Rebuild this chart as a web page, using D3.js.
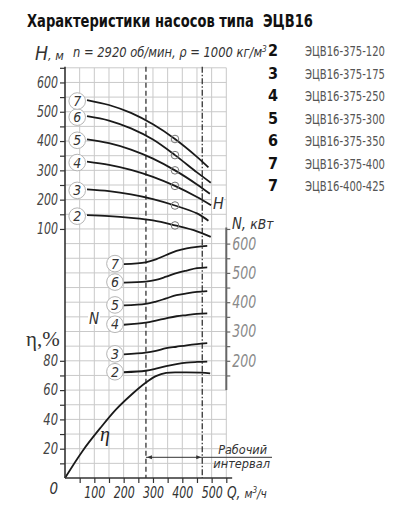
<!DOCTYPE html>
<html>
<head>
<meta charset="utf-8">
<script src="https://cdn.jsdelivr.net/npm/d3@7"></script>
<style>
  html, body { margin: 0; padding: 0; background: #fff; }
  svg { display: block; }
</style>
</head>
<body>
<div id="chart"></div>
<script>
// --- data ---
const pumpNums = ['2', '3', '4', '5', '6', '7', '7'];
const pumpNames = ['ЭЦВ16-375-120', 'ЭЦВ16-375-175', 'ЭЦВ16-375-250', 'ЭЦВ16-375-300',
  'ЭЦВ16-375-350', 'ЭЦВ16-375-400', 'ЭЦВ16-400-425'];

const curveLabels = ['2', '3', '4', '5', '6', '7'];

// head H (m) vs flow Q (m3/h)
const headQ = [75, 150, 225, 300, 375, 450];
const headEndQ = [497, 489, 498, 494, 497, 489];
const headVals = [
  [147, 144, 138, 129, 112, 92, 73],
  [235, 229, 218, 202, 180, 153, 128],
  [330, 319, 302, 278, 247, 209, 181],
  [406, 393, 371, 340, 300, 252, 220],
  [485, 470, 443, 405, 352, 293, 258],
  [540, 523, 496, 457, 407, 346, 310]
];
const dutyQ = 375; // small circles on the H curves

// power N (kW) vs Q
const powerQ = [200, 275, 310, 345, 380, 415, 450, 485];
const powerVals = [
  [161, 166, 173, 182, 189, 194, 196, 197],
  [222, 228, 234, 243, 248, 253, 257, 260],
  [323, 330, 337, 345, 352, 356, 360, 362],
  [389, 394, 402, 413, 424, 430, 435, 438],
  [467, 470, 476, 487, 499, 508, 516, 519],
  [530, 536, 546, 561, 575, 584, 589, 592]
];

// efficiency (%) vs Q
const etaQ = [0, 60, 120, 175, 230, 275, 310, 345, 400, 465, 495];
const etaVals = [0, 18.5, 34, 47, 57.5, 65, 69.5, 71.8, 72.1, 71.9, 71.4];

const workQ = [276, 468];

const qTicks = [50, 100, 150, 200, 250, 300, 350, 400, 450, 500, 550];
const hTicks = [100, 150, 200, 250, 300, 350, 400, 450, 500, 550, 600, 650];
const etaTicks = [10, 20, 30, 40, 50, 60, 70, 80];
const nTicks = [150, 200, 250, 300, 350, 400, 450, 500, 550, 600, 650];

// --- drawing ---
const FONT = '"DejaVu Sans Condensed", "DejaVu Sans", sans-serif';
const INK = '#1a1a1a';
const GRID = '#c9c9c9';

const svg = d3.select('#chart').append('svg')
  .attr('width', 399).attr('height', 524)
  .style('font-family', FONT);

const x = d3.scaleLinear().domain([0, 550]).range([65, 226.3]);
const yEta = d3.scaleLinear().domain([0, 80]).range([478, 360.8]);
const yH = d3.scaleLinear().domain([100, 600]).range([228.95, 82.45]);
const yN = d3.scaleLinear().domain([200, 600]).range([360.8, 243.6]);

const gridTop = yEta(280);

// text squeezed horizontally to a given width (the original uses a narrow face)
function fitText(px, py, width, anchor, sy) {
  const g = svg.append('g').attr('transform', `translate(${px},${py})`);
  const t = g.append('text').attr('text-anchor', anchor || 'start');
  return {
    t,
    done() {
      const w = t.node().getBBox().width;
      g.attr('transform', `translate(${px},${py}) scale(${width / w},${sy || 1})`);
      return t;
    }
  };
}

// grid
const grid = svg.append('g').attr('stroke', GRID).attr('stroke-width', 1);
d3.range(10, 290, 10).forEach(v => {
  grid.append('line').attr('x1', x(0)).attr('x2', x(550))
    .attr('y1', yEta(v)).attr('y2', yEta(v));
});
qTicks.forEach(q => {
  grid.append('line').attr('x1', x(q)).attr('x2', x(q))
    .attr('y1', gridTop).attr('y2', yEta(0));
});

// working range lines
workQ.forEach((q, i) => {
  svg.append('line')
    .attr('x1', x(q)).attr('x2', x(q))
    .attr('y1', gridTop - 1).attr('y2', yEta(0))
    .attr('stroke', '#333').attr('stroke-width', 1.3)
    .attr('stroke-dasharray', i === 0 ? '5,3' : '6,2,1.5,2');
});

const line = d3.line().curve(d3.curveCatmullRom.alpha(0.5));

// H curves
headVals.forEach((vals, i) => {
  const qs = headQ.concat([headEndQ[i]]);
  const pts = qs.map((q, j) => [x(q), yH(vals[j])]);
  svg.append('path').attr('d', line(pts))
    .attr('fill', 'none').attr('stroke', INK).attr('stroke-width', 1.8);
  const k = headQ.indexOf(dutyQ);
  svg.append('circle').attr('cx', x(dutyQ)).attr('cy', yH(vals[k])).attr('r', 3.8)
    .attr('fill', 'none').attr('stroke', '#777').attr('stroke-width', 1);
});

// N curves
powerVals.forEach(vals => {
  const pts = powerQ.map((q, j) => [x(q), yN(vals[j])]);
  svg.append('path').attr('d', line(pts))
    .attr('fill', 'none').attr('stroke', INK).attr('stroke-width', 1.8);
});

// eta curve
svg.append('path')
  .attr('d', line(etaQ.map((q, j) => [x(q), yEta(etaVals[j])])))
  .attr('fill', 'none').attr('stroke', INK).attr('stroke-width', 1.8);

// numbered label circles
function badge(cx, cy, txt) {
  svg.append('circle').attr('cx', cx).attr('cy', cy).attr('r', 8.3)
    .attr('fill', '#fff').attr('stroke', '#b5b5b5').attr('stroke-width', 1);
  svg.append('text').attr('x', cx).attr('y', cy).attr('dy', '0.36em')
    .attr('text-anchor', 'middle').style('font-style', 'italic')
    .style('font-size', '14px').style('fill', '#333').text(txt);
}
headVals.forEach((vals, i) => badge(x(headQ[0]) - 9.8, yH(vals[0]) + 1, curveLabels[i]));
powerVals.forEach((vals, i) => badge(x(powerQ[0]) - 8.7, yN(vals[0]) - 0.5, curveLabels[i]));

// curve names on the plot
svg.append('rect').attr('x', 212).attr('y', 196).attr('width', 12).attr('height', 15).attr('fill', '#fff');
svg.append('text').attr('x', 213).attr('y', 209).style('font-style', 'italic')
  .style('font-size', '16px').style('fill', '#333').text('H');
svg.append('rect').attr('x', 88).attr('y', 311).attr('width', 12).attr('height', 14).attr('fill', '#fff');
svg.append('text').attr('x', 89).attr('y', 324).style('font-style', 'italic')
  .style('font-size', '15px').style('fill', '#333').text('N');
svg.append('text').attr('x', 100).attr('y', 441).style('font-style', 'italic')
  .style('font-family', '"Liberation Serif", serif')
  .style('font-size', '20px').style('fill', '#222').text('η');

// axes
function styleAxis(g, size, color, w3) {
  g.select('.domain').remove();
  g.selectAll('.tick line').attr('stroke', '#333').attr('stroke-width', 1.2);
  g.selectAll('.tick text').style('font-style', 'italic').style('font-size', size)
    .style('fill', color).style('font-family', FONT)
    .each(function () {
      const s = d3.select(this).text();
      if (s) d3.select(this).attr('textLength', s.length === 3 ? w3 : w3 * 0.7)
        .attr('lengthAdjust', 'spacingAndGlyphs');
    });
}

const hAxis = svg.append('g').attr('transform', `translate(${x(0)},0)`)
  .call(d3.axisLeft(yH).tickValues(hTicks).tickSize(5).tickPadding(2)
    .tickFormat(d => d % 100 === 0 ? d : ''));
styleAxis(hAxis, '15px', '#444', 21);

const eAxis = svg.append('g').attr('transform', `translate(${x(0)},0)`)
  .call(d3.axisLeft(yEta).tickValues(etaTicks).tickSize(5).tickPadding(2)
    .tickFormat(d => d % 20 === 0 ? d : ''));
styleAxis(eAxis, '15px', '#444', 21);

const qAxis = svg.append('g').attr('transform', `translate(0,${yEta(0)})`)
  .call(d3.axisBottom(x).tickValues(qTicks).tickSize(5).tickPadding(4)
    .tickFormat(d => d % 100 === 0 && d <= 500 ? d : ''));
styleAxis(qAxis, '15px', '#333', 21);

const nAxis = svg.append('g').attr('transform', `translate(${x(550)},0)`)
  .call(d3.axisRight(yN).tickValues(nTicks).tickSize(4).tickPadding(2)
    .tickFormat(d => d % 100 === 0 && d <= 600 ? d : ''));
styleAxis(nAxis, '17px', '#8a8a8a', 24);
nAxis.selectAll('.tick line').attr('stroke', '#666');

// axis lines
svg.append('line').attr('x1', x(0)).attr('x2', x(0)).attr('y1', gridTop - 1).attr('y2', yEta(0))
  .attr('stroke', '#333').attr('stroke-width', 1.6);
svg.append('line').attr('x1', x(0)).attr('x2', x(570)).attr('y1', yEta(0)).attr('y2', yEta(0))
  .attr('stroke', '#333').attr('stroke-width', 1.6);
svg.append('line').attr('x1', x(550)).attr('x2', x(550)).attr('y1', yN(655)).attr('y2', yN(100))
  .attr('stroke', '#666').attr('stroke-width', 2);

// axis titles
svg.append('text').attr('x', x(0) - 7).attr('y', 494).attr('text-anchor', 'end')
  .style('font-style', 'italic').style('font-size', '15px').style('fill', '#333').text('0');

let f = fitText(227, 498, 40);
f.t.style('font-style', 'italic').style('fill', '#333');
f.t.append('tspan').style('font-size', '15px').text('Q, ');
f.t.append('tspan').style('font-size', '13px').text('м');
f.t.append('tspan').style('font-size', '9px').attr('dy', -5).text('3');
f.t.append('tspan').style('font-size', '13px').attr('dy', 5).text('/ч');
f.done();

f = fitText(35, 60, 29);
f.t.style('font-style', 'italic').style('fill', '#333');
f.t.append('tspan').style('font-size', '20px').text('H');
f.t.append('tspan').style('font-size', '13px').text(', м');
f.done();

svg.append('text').attr('x', 26).attr('y', 346)
  .style('font-family', '"Liberation Serif", serif').style('font-size', '21px')
  .style('fill', '#333').text('η,%');

f = fitText(232, 229, 42);
f.t.style('font-style', 'italic').style('fill', '#333');
f.t.append('tspan').style('font-size', '15px').text('N, ');
f.t.append('tspan').style('font-size', '14px').text('кВт');
f.done();

// working interval arrow
const yArr = 457.3;
svg.append('line').attr('x1', x(workQ[0])).attr('x2', 272).attr('y1', yArr).attr('y2', yArr)
  .attr('stroke', '#333').attr('stroke-width', 1);
const ax0 = x(workQ[0]) + 1, ax1 = x(workQ[1]) - 1;
svg.append('path').attr('d', `M${ax0},${yArr} l5,-2 l0,4 z`).attr('fill', '#333');
svg.append('path').attr('d', `M${ax1},${yArr} l-5,-2 l0,4 z`).attr('fill', '#333');
f = fitText(267, 454, 49, 'end', 0.85);
f.t.style('font-style', 'italic').style('font-size', '13.5px').style('fill', '#333').text('Рабочий');
f.done();
f = fitText(270, 467.5, 57, 'end', 0.85);
f.t.style('font-style', 'italic').style('font-size', '13.5px').style('fill', '#333').text('интервал');
f.done();

// title + conditions
f = fitText(27, 27, 286);
f.t.style('font-weight', 'bold').style('font-size', '18px').style('fill', '#111')
  .text('Характеристики насосов типа\u00a0 ЭЦВ16');
f.done();

f = fitText(73, 57, 194);
f.t.style('font-style', 'italic').style('font-size', '14px').style('fill', '#333');
f.t.append('tspan').text('n = 2920 об/мин, ρ = 1000 кг/м');
f.t.append('tspan').attr('dy', -5).style('font-size', '9px').text('3');
f.done();

// legend
pumpNums.forEach((n, i) => {
  const yy = 56 + i * 22.55;
  svg.append('text').attr('x', 273).attr('y', yy).attr('text-anchor', 'middle')
    .style('font-weight', 'bold').style('font-size', '16px').style('fill', '#111').text(n);
  const g = fitText(305, yy, 80);
  g.t.style('font-size', '14.5px').style('fill', '#555').text(pumpNames[i]);
  g.done();
});
</script>
</body>
</html>
